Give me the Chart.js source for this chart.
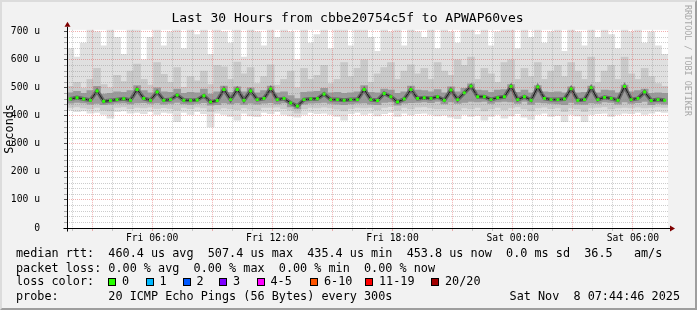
<!DOCTYPE html>
<html>
<head>
<meta charset="utf-8">
<script src="https://cdn.jsdelivr.net/npm/chart.js@4.4.1/dist/chart.umd.min.js"></script>
<style>
  html, body { margin: 0; padding: 0; background: #f2f2f2; }
  #wrap { position: relative; width: 697px; height: 310px; overflow: hidden;
          font-family: "DejaVu Sans Mono", monospace; color: #000; }
  #wrap canvas { position: absolute; left: 0; top: 0; }
  .frame { position: absolute; left: 0; top: 0; width: 693px; height: 306px; border: 2px solid;
           border-color: #dcdcdc #9e9e9e #9e9e9e #dcdcdc; pointer-events: none; }
  .title { position: absolute; left: 0; top: 10px; width: 695px; text-align: center;
           font-size: 13px; line-height: 16px; white-space: pre; }
  .txt { position: absolute; white-space: pre; font-size: 11.8px; line-height: 14px; }
  .box { position: absolute; top: 278px; width: 6px; height: 6px; border: 1px solid #000; }
  .mark { position: absolute; left: 683px; top: 5px; writing-mode: vertical-rl; font-size: 8.4px;
          line-height: 10px; color: #a8a8a8; white-space: pre; }
</style>
</head>
<body>
<div id="wrap">
  <canvas id="myChart" width="697" height="310"></canvas>
  <div class="title">Last 30 Hours from cbbe20754c5f to APWAP60ves</div>
  <div class="mark">RRDTOOL / TOBI OETIKER</div>
  <div class="txt" style="left:16px; top:246px">median rtt:  460.4 us avg  507.4 us max  435.4 us min  453.8 us now  0.0 ms sd  36.5   am/s</div>
  <div class="txt" style="left:16px; top:261px">packet loss: 0.00 % avg  0.00 % max  0.00 % min  0.00 % now</div>
  <div class="txt" style="left:16px; top:274px">loss color:</div>
  <div id="lossLegend"></div>
  <div class="txt" style="left:16px; top:289px">probe:       20 ICMP Echo Pings (56 Bytes) every 300s</div>
  <div class="txt" style="right:17px; top:289px">Sat Nov  8 07:44:46 2025</div>
  <div class="frame"></div>
</div>
<script>
// time axis: hours since Fri 00:00, one value every 20 minutes starting Fri 01:45
var startHour = 1.75;
var endHour = 31.75;
var stepHours = 1 / 3;

// median rtt (us)
var median = [
  460, 465, 460, 456, 489, 452, 455, 458, 461, 456,
  494, 462, 456, 485, 456, 458, 474, 456, 456, 457,
  472, 450, 455, 494, 458, 494, 456, 489, 458, 462,
  497, 458, 462, 446, 435, 458, 460, 461, 478, 458,
  458, 456, 458, 458, 494, 458, 455, 480, 468, 450,
  460, 494, 462, 465, 462, 468, 456, 492, 458, 482,
  506, 468, 468, 458, 465, 468, 505, 458, 468, 456,
  503, 462, 458, 458, 460, 497, 456, 458, 500, 458,
  466, 462, 456, 505, 458, 462, 485, 455, 458, 456
];

// smoke: outer envelope (min / max ping)
var smokeMax = [
  640, 610, 660, 720, 700, 650, 720, 680, 620, 720,
  720, 600, 680, 720, 650, 700, 720, 640, 720, 690,
  720, 620, 720, 700, 660, 720, 610, 720, 700, 650,
  720, 680, 720, 700, 600, 720, 660, 690, 720, 640,
  720, 720, 650, 720, 720, 680, 630, 720, 700, 720,
  650, 720, 700, 680, 720, 640, 720, 700, 660, 720,
  720, 690, 720, 650, 700, 720, 720, 640, 720, 680,
  720, 660, 700, 720, 630, 720, 700, 650, 720, 680,
  720, 690, 640, 720, 700, 720, 660, 700, 650, 620
];
var smokeMin = [
  420, 415, 418, 410, 412, 405, 392, 415, 418, 410,
  412, 408, 415, 405, 412, 410, 379, 412, 405, 415,
  408, 361, 410, 405, 398, 385, 410, 400, 397, 412,
  408, 415, 405, 400, 395, 405, 412, 408, 410, 405,
  398, 385, 408, 412, 405, 410, 400, 408, 412, 398,
  410, 403, 408, 410, 405, 400, 403, 395, 390, 405,
  398, 402, 385, 398, 405, 392, 400, 408, 395, 387,
  405, 410, 398, 402, 379, 405, 400, 379, 405, 408,
  410, 398, 405, 410, 408, 412, 405, 410, 415, 412
];

// smoke: middle pings
var upperMid = [
  505, 520, 498, 530, 570, 512, 500, 545, 522, 560,
  585, 530, 510, 590, 548, 520, 572, 502, 540, 525,
  560, 512, 580, 575, 530, 592, 550, 572, 515, 540,
  582, 510, 530, 560, 500, 570, 530, 545, 580, 515,
  530, 590, 540, 570, 600, 520, 550, 572, 590, 530,
  560, 582, 550, 570, 530, 590, 560, 545, 600, 580,
  610, 530, 570, 550, 520, 590, 600, 530, 570, 540,
  590, 530, 560, 580, 540, 590, 560, 530, 610, 520,
  560, 580, 530, 610, 550, 530, 570, 540, 515, 505
];
var lowerMid = [
  430, 432, 428, 425, 430, 420, 418, 430, 432, 426,
  430, 428, 431, 427, 429, 427, 420, 430, 426, 431,
  428, 415, 424, 428, 425, 422, 428, 424, 420, 430,
  430, 431, 426, 420, 410, 425, 430, 428, 431, 428,
  424, 418, 427, 430, 428, 430, 422, 430, 433, 420,
  430, 425, 431, 432, 428, 425, 426, 423, 420, 428,
  425, 430, 418, 425, 430, 422, 428, 432, 425, 418,
  428, 431, 426, 428, 415, 428, 425, 415, 428, 430,
  432, 425, 428, 430, 428, 431, 428, 430, 432, 430
];

// smoke: pings closest to the median
var upperDark = [
  482, 488, 480, 490, 505, 478, 480, 486, 484, 490,
  508, 490, 482, 500, 486, 484, 496, 480, 484, 482,
  496, 478, 486, 506, 484, 504, 486, 500, 482, 490,
  506, 482, 486, 472, 462, 484, 486, 488, 498, 482,
  484, 480, 482, 486, 508, 484, 482, 496, 492, 480,
  486, 506, 492, 490, 486, 494, 482, 504, 486, 498,
  514, 492, 490, 484, 492, 494, 512, 484, 492, 482,
  508, 486, 484, 486, 482, 504, 482, 484, 506, 482,
  492, 490, 482, 510, 486, 490, 496, 480, 482, 480
];
var lowerDark = [
  445, 448, 446, 442, 444, 440, 442, 445, 446, 443,
  446, 447, 444, 446, 442, 444, 448, 443, 441, 444,
  447, 438, 440, 446, 443, 446, 441, 445, 442, 445,
  447, 443, 446, 432, 425, 442, 445, 446, 448, 444,
  442, 440, 443, 445, 446, 442, 440, 448, 450, 438,
  445, 447, 448, 450, 447, 452, 443, 450, 444, 448,
  452, 450, 452, 444, 450, 452, 450, 444, 452, 441,
  448, 446, 444, 443, 440, 448, 442, 441, 446, 444,
  450, 448, 442, 450, 444, 447, 452, 440, 444, 442
];

// tick labels
var xTickHours = [6, 12, 18, 24, 30];
var xTickLabels = ['Fri 06:00', 'Fri 12:00', 'Fri 18:00', 'Sat 00:00', 'Sat 06:00'];
var yTickValues = [0, 100, 200, 300, 400, 500, 600, 700];
var yTickLabels = ['0', '100 u', '200 u', '300 u', '400 u', '500 u', '600 u', '700 u'];

// loss colour legend
var lossLabels = ['0', '1', '2', '3', '4-5', '6-10', '11-19', '20/20'];
var lossColors = ['#26ff00', '#00b8ff', '#0059ff', '#7e00ff', '#ff00ff', '#ff5500', '#ff0000', '#a10000'];
var lossBoxX = [108, 145.5, 182.5, 219, 256.5, 310, 365, 431];

var FONT = "'DejaVu Sans Mono', monospace";
var MINOR = 'rgba(143, 143, 143, 0.45)';
var MAJOR = 'rgba(224, 80, 80, 0.45)';

function buildLossLegend() {
    var holder = document.getElementById('lossLegend');
    for (var i = 0; i < lossLabels.length; i++) {
        var b = document.createElement('div');
        b.className = 'box';
        b.style.left = lossBoxX[i] + 'px';
        b.style.background = lossColors[i];
        holder.appendChild(b);
        var t = document.createElement('div');
        t.className = 'txt';
        t.style.left = (lossBoxX[i] + 14) + 'px';
        t.style.top = '274px';
        t.textContent = lossLabels[i];
        holder.appendChild(t);
    }
}

function xAt(i) {
    return startHour + (i + 0.5) * stepHours;
}

function points(arr) {
    return arr.map(function(v, i) { return {x: xAt(i), y: v}; });
}

function band(lo, hi) {
    return lo.map(function(v, i) { return {x: xAt(i), y: [v, hi[i]]}; });
}

// plot background and the two arrowed axes
var axesPlugin = {
    id: 'axesPlugin',
    beforeDraw: function(chart) {
        var ctx = chart.ctx, a = chart.chartArea;
        ctx.save();
        ctx.fillStyle = '#ffffff';
        ctx.fillRect(a.left, a.top, a.right - a.left, a.bottom - a.top);
        ctx.restore();
    },
    afterDraw: function(chart) {
        var ctx = chart.ctx, a = chart.chartArea;
        var y0 = Math.round(chart.scales.y.getPixelForValue(0)) + 0.5;
        var x0 = Math.round(a.left) + 0.5;
        ctx.save();
        ctx.strokeStyle = '#000';
        ctx.lineWidth = 1;
        ctx.beginPath();
        ctx.moveTo(x0 - 4, y0);
        ctx.lineTo(a.right + 2, y0);
        ctx.moveTo(x0, y0 + 3);
        ctx.lineTo(x0, a.top - 3);
        ctx.stroke();
        ctx.fillStyle = '#7f0000';
        ctx.beginPath();
        ctx.moveTo(x0, a.top - 8);
        ctx.lineTo(x0 - 3, a.top - 3);
        ctx.lineTo(x0 + 3, a.top - 3);
        ctx.closePath();
        ctx.fill();
        ctx.beginPath();
        ctx.moveTo(a.right + 7, y0);
        ctx.lineTo(a.right + 2, y0 - 3);
        ctx.lineTo(a.right + 2, y0 + 3);
        ctx.closePath();
        ctx.fill();
        ctx.restore();
    }
};

function createChart(ctx) {
    var hourTicks = [];
    for (var h = 2; h <= 31; h++) hourTicks.push({value: h});
    var yTicks = [];
    for (var v = 0; v <= 700; v += 20) yTicks.push({value: v});

    return new Chart(ctx, {
        type: 'bar',
        data: {
            datasets: [
                {
                    type: 'line', label: 'loss 0', data: points(median), showLine: false,
                    pointStyle: 'rect', pointRadius: 2.1, pointBorderWidth: 0,
                    pointBackgroundColor: lossColors[0], order: 0
                },
                {
                    type: 'line', label: 'median', data: points(median), borderColor: '#1a1a1a',
                    borderWidth: 1, pointRadius: 0, tension: 0, order: 1
                },
                {
                    type: 'line', label: 'core', data: points(median), borderColor: 'rgba(50, 50, 50, 0.5)',
                    borderWidth: 4, pointRadius: 0, tension: 0, order: 2
                },
                { label: 'inner', data: band(lowerDark, upperDark), backgroundColor: '#9a9a9a', order: 3 },
                { label: 'middle', data: band(lowerMid, upperMid), backgroundColor: '#c9c9c9', order: 4 },
                { label: 'outer', data: band(smokeMin, smokeMax), backgroundColor: '#e0e0e0', order: 5 }
            ]
        },
        options: {
            responsive: false,
            animation: false,
            devicePixelRatio: 1,
            layout: { padding: { top: 28, right: 29, left: 0, bottom: 0 } },
            datasets: {
                bar: { grouped: false, barThickness: 7, borderWidth: 0, borderSkipped: false }
            },
            plugins: {
                legend: { display: false },
                tooltip: { enabled: false },
                title: { display: false }
            },
            scales: {
                x: {
                    type: 'linear',
                    min: startHour,
                    max: endHour,
                    offset: false,
                    afterBuildTicks: function(s) { s.ticks = hourTicks.slice(); },
                    afterFit: function(s) { s.height = 82; },
                    grid: {
                        z: 1, offset: false, lineWidth: 1, tickLength: 3,
                        color: function(c) { return c.tick && c.tick.value % 3 === 0 ? MAJOR : MINOR; },
                        tickColor: function(c) { return c.tick && c.tick.value % 3 === 0 ? MAJOR : MINOR; }
                    },
                    border: { display: false, dash: [1, 1] },
                    ticks: {
                        autoSkip: false, maxRotation: 0, minRotation: 0, padding: 2,
                        color: '#000', font: { family: FONT, size: 9.7 },
                        callback: function(value) {
                            var k = xTickHours.indexOf(value);
                            return k >= 0 ? xTickLabels[k] : '';
                        }
                    }
                },
                y: {
                    min: 0,
                    max: 707,
                    afterBuildTicks: function(s) { s.ticks = yTicks.slice(); },
                    afterFit: function(s) { s.width = 67; },
                    grid: {
                        z: 1, lineWidth: 1, tickLength: 3,
                        color: function(c) { return c.tick && c.tick.value % 100 === 0 ? MAJOR : MINOR; },
                        tickColor: function(c) { return c.tick && c.tick.value % 100 === 0 ? '#555' : '#aaa'; }
                    },
                    border: { display: false, dash: [1, 1] },
                    ticks: {
                        autoSkip: false, padding: 24, color: '#000',
                        font: { family: FONT, size: 9.7 },
                        callback: function(value) {
                            var k = yTickValues.indexOf(value);
                            return k >= 0 ? yTickLabels[k] : '';
                        }
                    },
                    title: {
                        display: true, text: 'Seconds', color: '#000',
                        font: { family: FONT, size: 11.8 },
                        padding: { top: 3, bottom: 0 }
                    }
                }
            }
        },
        plugins: [axesPlugin]
    });
}

buildLossLegend();
var ctx = document.getElementById('myChart').getContext('2d');
createChart(ctx);
</script>
</body>
</html>
